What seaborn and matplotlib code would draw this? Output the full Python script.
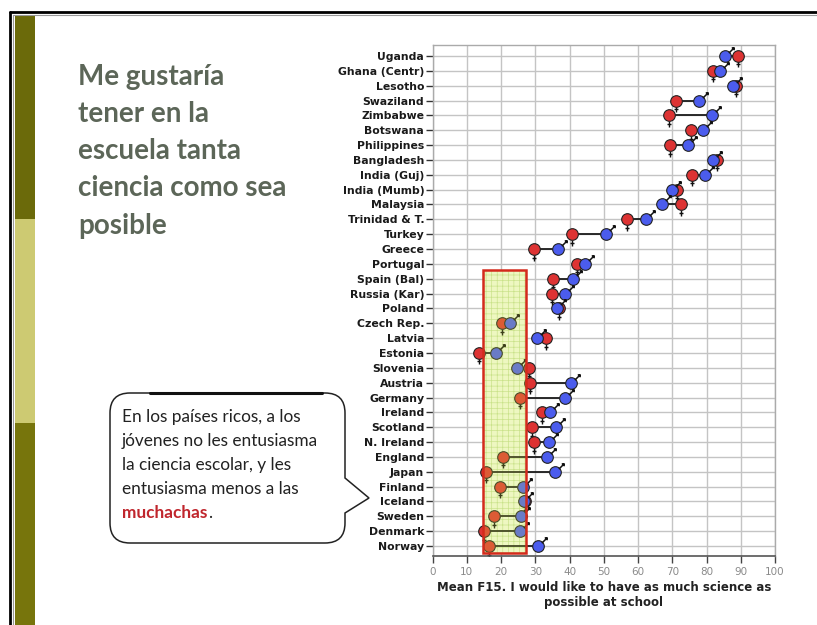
import numpy as np
import pandas as pd
import matplotlib
matplotlib.use('Agg')
import matplotlib.pyplot as plt
import seaborn as sns
from matplotlib.path import Path
from matplotlib.patches import PathPatch, Rectangle
from matplotlib.lines import Line2D
from matplotlib.markers import MarkerStyle
from matplotlib.transforms import offset_copy

# data (mean agreement, 0-100)
countries = ['Uganda', 'Ghana (Centr)', 'Lesotho', 'Swaziland', 'Zimbabwe', 'Botswana',
             'Philippines', 'Bangladesh', 'India (Guj)', 'India (Mumb)', 'Malaysia',
             'Trinidad & T.', 'Turkey', 'Greece', 'Portugal', 'Spain (Bal)', 'Russia (Kar)',
             'Poland', 'Czech Rep.', 'Latvia', 'Estonia', 'Slovenia', 'Austria', 'Germany',
             'Ireland', 'Scotland', 'N. Ireland', 'England', 'Japan', 'Finland', 'Iceland',
             'Sweden', 'Denmark', 'Norway']
girls = [89.3, 81.9, 88.7, 71.2, 69.1, 75.6, 69.3, 83.2, 75.8, 71.5, 72.5, 56.9, 40.8,
         29.6, 42.1, 35.3, 35.0, 37.0, 20.4, 33.1, 13.6, 28.3, 28.5, 25.6, 32.1, 29.0,
         29.6, 20.7, 15.7, 19.8, 27.0, 18.0, 15.0, 16.6]
boys = [85.5, 83.9, 87.8, 77.8, 81.7, 79.0, 74.5, 81.9, 79.7, 69.8, 67.1, 62.3, 50.8,
        36.6, 44.5, 41.1, 38.7, 36.3, 22.7, 30.6, 18.6, 24.8, 40.3, 38.7, 34.3, 36.0,
        34.1, 33.5, 35.9, 26.5, 26.6, 25.7, 25.5, 30.8]

# highlighted block (x range and row range)
box_x = (14.7, 27.2)
box_rows = (14.4, 33.45)

title = "Me gustaría\ntener en la\nescuela tanta\nciencia como sea\nposible"
note_lines = ["En los países ricos, a los", "jóvenes no les entusiasma",
              "la ciencia escolar, y les", "entusiasma menos a las"]
note_red = "muchachas"
xlabel = "Mean F15. I would like to have as much science as\npossible at school"

sns.set_theme(style='white')
plt.rcParams['font.family'] = ['DejaVu Sans']
plt.rcParams['hatch.linewidth'] = 0.5

W, H = 817, 625
fig = plt.figure(figsize=(W / 100, H / 100), dpi=100)
fig.patch.set_facecolor('white')


def fx(px):
    return px / W


def fy(py):
    return 1 - py / H


# slide decoration
fig.add_artist(Rectangle((fx(15), fy(H)), fx(35) - fx(15), fy(423) - fy(H), transform=fig.transFigure,
                         fc='#77750c', ec='none'))
fig.add_artist(Rectangle((fx(15), fy(423)), fx(35) - fx(15), fy(219) - fy(423), transform=fig.transFigure,
                         fc='#cdca72', ec='none'))
fig.add_artist(Rectangle((fx(15), fy(219)), fx(35) - fx(15), fy(16) - fy(219), transform=fig.transFigure,
                         fc='#6b6a0a', ec='none'))
fig.add_artist(Line2D([fx(9.5), fx(9.5)], [fy(11.5), fy(H)], transform=fig.transFigure, color='black', lw=2))
fig.add_artist(Line2D([fx(9.5), fx(W)], [fy(11.5), fy(11.5)], transform=fig.transFigure, color='black', lw=2))
fig.add_artist(Line2D([fx(13), fx(13)], [fy(15), fy(H)], transform=fig.transFigure, color='#999999', lw=0.8))
fig.add_artist(Line2D([fx(13), fx(W)], [fy(15), fy(15)], transform=fig.transFigure, color='#999999', lw=0.8))

fig.text(fx(78), fy(64), title, family='Lato', weight='bold', size=20, color='#5c6658',
         va='top', ha='left', linespacing=1.53)

# speech bubble
L, R, T, B, r = 110, 345, 393, 543, 20
pts = [(L + r, T), (R - r, T), (R, T), (R, T + r), (R, 478), (369, 498), (R, 513), (R, B - r),
       (R, B), (R - r, B), (L + r, B), (L, B), (L, B - r), (L, T + r), (L, T), (L + r, T), (L + r, T)]
codes = [Path.MOVETO, Path.LINETO, Path.CURVE3, Path.CURVE3, Path.LINETO, Path.LINETO, Path.LINETO,
         Path.LINETO, Path.CURVE3, Path.CURVE3, Path.LINETO, Path.CURVE3, Path.CURVE3, Path.LINETO,
         Path.CURVE3, Path.CURVE3, Path.CLOSEPOLY]
bubble = Path([(fx(x), fy(y)) for x, y in pts], codes)
fig.add_artist(PathPatch(bubble, transform=fig.transFigure, fc='white', ec='#222222', lw=1.1))
fig.add_artist(Line2D([fx(150), fx(322)], [fy(392.5), fy(392.5)], transform=fig.transFigure,
                      color='#111111', lw=2.2, solid_capstyle='round'))
for i, line in enumerate(note_lines):
    fig.text(fx(122), fy(422 + 24 * i), line, family='Lato', size=12.4, color='#222222', va='baseline')
red_txt = fig.text(fx(122), fy(518), note_red, family='Lato', size=12.4, weight='bold',
                   color='#c0262d', va='baseline')
fig.canvas.draw()
bb = red_txt.get_window_extent()
fig.text(bb.x1 / W + 0.001, fy(518), '.', family='Lato', size=12.4, color='#222222', va='baseline')

# chart
ax = fig.add_axes([fx(432.5), fy(556), (775 - 432.5) / W, (556 - 45) / H])

df = pd.DataFrame({'country': countries, 'row': np.arange(len(countries)),
                   'girls': girls, 'boys': boys})

ax.hlines(df['row'], df[['girls', 'boys']].min(axis=1), df[['girls', 'boys']].max(axis=1),
          color='#1a1a1a', lw=1.3, zorder=2)
sns.scatterplot(data=df, x='girls', y='row', color='#dd3333', s=70, edgecolor='#222222',
                linewidth=0.8, zorder=3, ax=ax)
sns.scatterplot(data=df, x='boys', y='row', color='#4b5ced', s=70, edgecolor='#222222',
                linewidth=0.8, zorder=3, ax=ax)

# gender symbols: cross under girls, arrow on boys
female = MarkerStyle(Path([(0, 1), (0, -1), (-0.7, -0.1), (0.7, -0.1)],
                          [Path.MOVETO, Path.LINETO, Path.MOVETO, Path.LINETO]))
male = MarkerStyle(Path([(-1, -1), (1, 1), (0.1, 1), (1, 1), (1, 0.1)],
                        [Path.MOVETO, Path.LINETO, Path.MOVETO, Path.LINETO, Path.LINETO]))
ax.plot(df['girls'], df['row'], ls='none', marker=female, ms=4.5, mec='#111111', mew=1.0,
        transform=offset_copy(ax.transData, fig=fig, x=0, y=-8.5, units='dots'), zorder=2.5)
ax.plot(df['boys'], df['row'], ls='none', marker=male, ms=3.8, mec='#111111', mew=1.1,
        transform=offset_copy(ax.transData, fig=fig, x=6, y=6, units='dots'), zorder=4)

# highlighted block: grid texture under the marks, yellow tint over them
bx, bw = box_x[0], box_x[1] - box_x[0]
by, bh = box_rows[0], box_rows[1] - box_rows[0]
ax.add_patch(Rectangle((bx, by), bw, bh, fc=(0.96, 0.985, 0.9), ec='#c6e0a0', lw=0,
                       hatch='+++', zorder=1.5))
ax.add_patch(Rectangle((bx, by), bw, bh, fc=(0.85, 0.92, 0.25, 0.22), ec='none', zorder=5))
ax.add_patch(Rectangle((bx, by), bw, bh, fc='none', ec='#d42a1c', lw=1.8, zorder=6))

ax.set_xlim(0, 100)
ax.set_ylim(33.67, -0.74)
ax.set_xticks(range(0, 101, 10))
ax.set_yticks(df['row'], labels=countries)
for lab in ax.get_yticklabels():
    lab.set_fontsize(7.8)
    lab.set_fontweight('bold')
    lab.set_color('#1a1a1a')
ax.tick_params(axis='y', left=True, length=5, width=1, color='#333333', pad=1)
ax.tick_params(axis='x', bottom=True, length=5, width=1, color='#444444', labelsize=7.5,
               labelcolor='#8a8a8a', pad=3)
ax.grid(True, color='#c4c4c4', lw=1)
ax.set_axisbelow(True)
for side in ['top', 'right', 'left']:
    ax.spines[side].set_color('#aaaaaa')
    ax.spines[side].set_linewidth(1)
ax.spines['bottom'].set_color('#555555')
ax.spines['bottom'].set_linewidth(1.2)
ax.set_xlabel(xlabel, fontsize=8.5, fontweight='bold', color='#222222', labelpad=3)
ax.set_ylabel('')

fig.savefig('out.png', dpi=100)
plt.close()
